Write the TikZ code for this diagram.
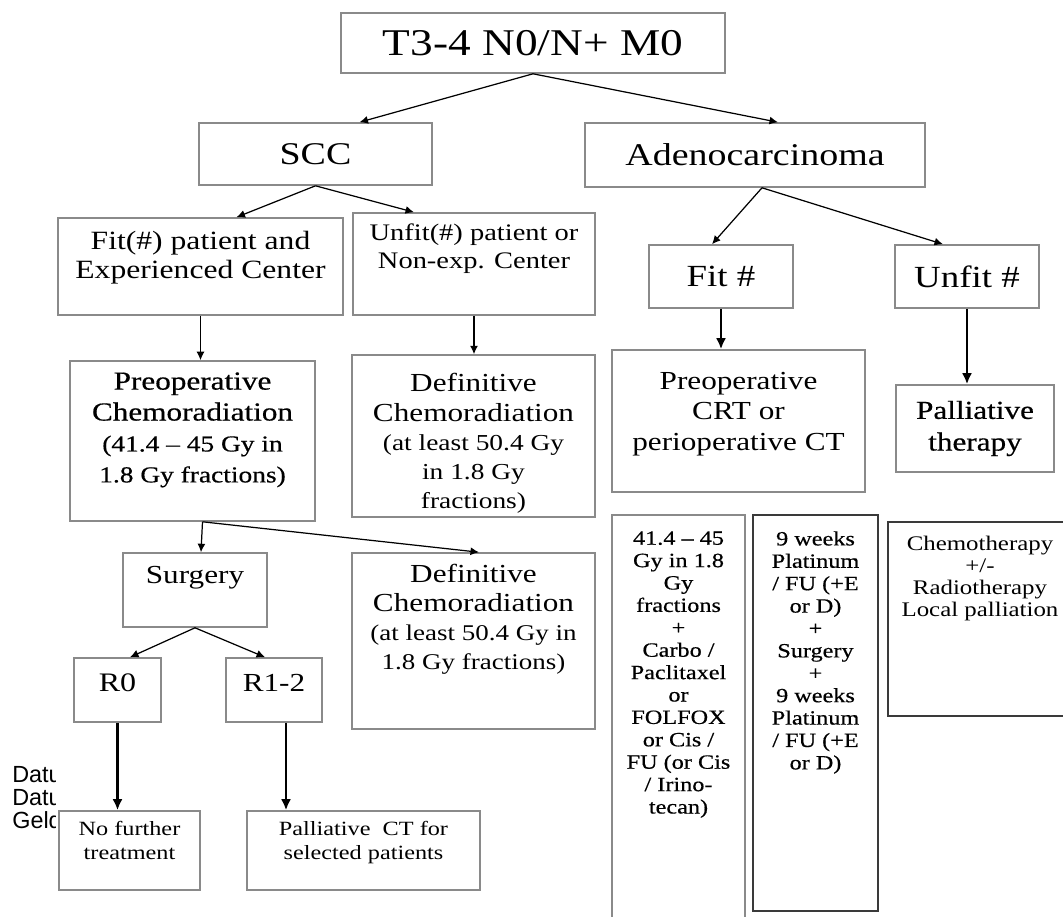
\documentclass[tikz,border=0pt]{standalone}
\usepackage{fontspec}
\setmainfont{Liberation Serif}[FakeStretch=1.2]
\newfontfamily\heavyserif{Liberation Serif}[FakeStretch=1.2,FakeBold=0.5]
\newfontfamily\stampfont{Liberation Sans}
\usetikzlibrary{arrows.meta,calc}
\definecolor{frameGray}{HTML}{8A8A8A}
\definecolor{frameDark}{HTML}{3A3A3A}
\newcommand\finer{\fontsize{13}{17.6}\selectfont}

\begin{document}
\begin{tikzpicture}[
  x=0.02cm,y=-0.02cm,
  >={Latex[length=1.7mm,width=1.6mm]},
  stagebox/.style={draw=frameGray,line width=0.9pt,align=center,inner sep=2pt},
  wh/.style 2 args={minimum width=#1*0.02cm,minimum height=#2*0.02cm},
  fnt/.style 2 args={font=\fontsize{#1}{#2}\selectfont},
  lift/.style={text depth=#1},
  colbox/.style={draw=#1,line width=1.1pt,anchor=north,inner sep=0pt},
  coltxt/.style={anchor=north,align=center,inner sep=0pt,
                 font=\heavyserif\fontsize{11.5}{12.75}\selectfont},
  link/.style={->,line width=0.7pt},
  heavy/.style={-{Latex[length=2.2mm,width=2mm]},line width=1.4pt},
]
\useasboundingbox (0,0) rectangle (1063,917);

% ---- stage and histology -------------------------------------------------
\node[stagebox,wh={384}{60},fnt={21.5}{24}] (top) at (533,43) {T3-4 N0/N+ M0};
\node[stagebox,wh={233}{62},fnt={18}{20}] (scc) at (315.5,154) {SCC};
\node[stagebox,wh={340}{64},fnt={18}{20}] (adeno) at (755,155) {Adenocarcinoma};

% ---- fitness level ---------------------------------------------------------
\node[stagebox,wh={285}{97},fnt={15}{16.4},lift=13pt] (fitp) at (200.5,266.5)
  {Fit(\#) patient and\\Experienced Center};
\node[stagebox,wh={242}{102},fnt={13.5}{16},lift=20pt] (unfitp) at (474,264)
  {Unfit(\#) patient or\\Non-exp. Center};
\node[stagebox,wh={144}{63},fnt={17.5}{20}] (fitn) at (721,276.5) {Fit \#};
\node[stagebox,wh={144}{63},fnt={17.5}{20}] (unfitn) at (967,276.5) {Unfit \#};

% ---- first treatment -------------------------------------------------------
\node[stagebox,wh={245}{160},font=\heavyserif\fontsize{14.8}{17.6}\selectfont,
      lift=15.5pt] (preop) at (192.5,441)
  {Preoperative\\Chemoradiation\\{\finer(41.4 – 45 Gy in}\\{\finer 1.8 Gy fractions)}};
\node[stagebox,wh={243}{154},fnt={14.8}{16.6}] (defup) at (473.5,436)
  {\rule{0pt}{19pt}Definitive\\Chemoradiation\\{\finer(at least 50.4 Gy}\\{\finer in 1.8 Gy}\\{\finer fractions)}};
\node[stagebox,wh={253}{142},fnt={14.8}{17.3},lift=11pt] (preopcrt) at (738.5,421)
  {Preoperative\\CRT or\\perioperative CT};
\node[stagebox,wh={158}{87},font=\heavyserif\fontsize{14.8}{18}\selectfont] (pall) at (975,428.5)
  {Palliative\\therapy};

% ---- after preoperative chemoradiation -------------------------------------
\node[stagebox,wh={144}{74},fnt={14.8}{17},lift=17pt] (surg) at (195,590) {Surgery};
\node[stagebox,wh={243}{176},fnt={14.8}{16.5},lift=27pt] (def2) at (473.5,641)
  {Definitive\\Chemoradiation\\{\fontsize{12.8}{16.5}\selectfont(at least 50.4 Gy in}\\{\fontsize{12.8}{16.5}\selectfont 1.8 Gy fractions)}};
\node[stagebox,wh={87}{64},fnt={15.2}{17},lift=8pt] (r0) at (117.5,690) {R0};
\node[stagebox,wh={96}{64},fnt={14.8}{17},lift=8pt] (r12) at (274,690) {R1-2};
\node[stagebox,wh={141}{79},fnt={11.5}{14.2},lift=11.5pt] (nofur) at (129.5,850.5)
  {No further\\treatment};
\node[stagebox,wh={233}{79},fnt={11.5}{14.2},lift=11.5pt] (palct) at (363.5,850.5)
  {Palliative\ \ CT for\\selected patients};

% ---- regimen columns -------------------------------------------------------
\node[colbox=frameGray,wh={133}{420}] (c41) at (678.5,514) {};
\node[coltxt] (c41txt) at (678.5,531)
  {41.4 – 45\\Gy in 1.8\\Gy\\fractions\\+\\Carbo /\\Paclitaxel\\or\\FOLFOX\\or Cis /\\FU (or Cis\\/ Irino-\\tecan)};
\node[colbox=frameDark,wh={125}{396},line width=1.4pt] (c9w) at (815.5,514) {};
\node[coltxt] (c9wtxt) at (815.5,531)
  {9 weeks\\Platinum\\/ FU (+E\\or D)\\+\\Surgery\\+\\9 weeks\\Platinum\\/ FU (+E\\or D)};
\node[colbox=frameDark,wh={184}{194}] (chemo) at (980,521) {};
\node[coltxt,font=\fontsize{11.8}{12.5}\selectfont] (chemotxt) at (980,536)
  {Chemotherapy\\+/-\\Radiotherapy\\Local palliation};

% ---- clipped stamp at the left border --------------------------------------
\begin{scope}
  \clip (0,760) rectangle (55,840);
  \node[anchor=north west,inner sep=0pt,align=left,
        font=\stampfont\fontsize{13.3}{13}\selectfont] (stamp) at (12,766)
    {Datum\\Datum\\Geld};
\end{scope}

% ---- connectors ------------------------------------------------------------
\draw[link] (top.south) -- ($(scc.north)+(44,0)$);
\draw[link] (top.south) -- ($(adeno.north)+(23,0)$);
\draw[link] (scc.south) -- ($(fitp.north)+(36,0)$);
\draw[link] (scc.south) -- ($(unfitp.north)+(-60,0)$);
\coordinate (adfork) at ($(adeno.south)+(7,0)$);
\draw[link] (adfork) -- ($(fitn.north)+(-9,0)$);
\draw[link] (adfork) -- ($(unfitn.north)+(-24,0)$);

\draw[link] (fitp.south) -- (fitp.south |- preop.north);
\draw[link] (unfitp.south) -- (unfitp.south |- defup.north);
\draw[heavy] (fitn.south) -- (fitn.south |- preopcrt.north);
\draw[heavy] (unfitn.south) -- (unfitn.south |- pall.north);

\coordinate (prfork) at ($(preop.south)+(10,0)$);
\draw[link] (prfork) -- ($(surg.north)+(6,0)$);
\draw[link] (prfork) -- ($(def2.north)+(5.5,0)$);
\draw[link] (surg.south) -- ($(r0.north)+(12.5,0)$);
\draw[link] (surg.south) -- ($(r12.north)+(-9,0)$);

\draw[heavy] (r0.south) -- (r0.south |- nofur.north);
\coordinate (r12out) at ($(r12.south)+(12,0)$);
\draw[heavy] (r12out) -- (r12out |- palct.north);

\end{tikzpicture}
\end{document}
